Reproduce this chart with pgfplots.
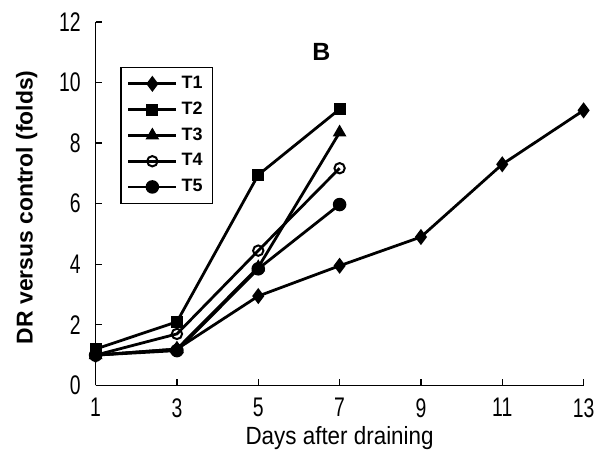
\documentclass[border=0pt]{standalone}
\usepackage{pgfplots}
\pgfplotsset{compat=1.18}
\usepackage{fontspec}
\setmainfont{Liberation Sans}
\newfontfamily\tickfont[FakeStretch=0.72]{Liberation Sans}
\newfontfamily\labfont[FakeStretch=0.9]{Liberation Sans}
\begin{document}
\begin{tikzpicture}
\begin{axis}[
  scale only axis,
  width=245pt, height=182.5pt,
  xmin=1, xmax=13, ymin=0, ymax=12,
  axis lines*=left,
  axis line style={line width=0.8pt},
  xtick={1,3,5,7,9,11,13},
  ytick={0,2,4,6,8,10,12},
  tick align=inside,
  major tick length=3pt,
  tick style={line width=0.6pt, black},
  /pgf/number format/assume math mode=true,
  ticklabel style={font=\tickfont\fontsize{13.5}{15}\selectfont},
  xticklabel style={yshift=-3pt},
  yticklabel style={xshift=-4pt},
  xlabel={Days after draining},
  ylabel={\textbf{DR versus control (folds)}},
  xlabel style={font=\labfont\fontsize{12.5}{14}\selectfont, at={(axis description cs:0.5,-0.145)}, anchor=center},
  ylabel style={font=\fontsize{11.5}{14}\selectfont, at={(axis description cs:-0.141,0.49)}, anchor=center, rotate=0},
  legend style={at={(axis description cs:0.051,0.877)}, anchor=north west,
    font=\bfseries\fontsize{9}{10}\selectfont, draw=black, line width=0.6pt,
    row sep=1.2pt, inner xsep=3pt, inner ysep=2.5pt, cells={anchor=west}},
  legend image code/.code={%
    \draw[mark repeat=2,mark phase=2] plot coordinates {(0pt,0pt) (12pt,0pt) (24pt,0pt)};},
  every axis plot/.append style={black, line width=1.4pt, mark options={solid, line width=0.8pt}},
  clip=false,
]
\addplot[mark=diamond*, mark size=3.4pt] coordinates {(1,1.0) (3,1.2) (5,2.95) (7,3.95) (9,4.9) (11,7.3) (13,9.08)};
\addlegendentry{T1}
\addplot[mark=square*, mark size=2.6pt] coordinates {(1,1.2) (3,2.1) (5,6.95) (7,9.12)};
\addlegendentry{T2}
\addplot[mark=triangle*, mark size=3.2pt] coordinates {(1,1.0) (3,1.2) (5,3.9) (7,8.35)};
\addlegendentry{T3}
\addplot[mark=o, mark size=2.6pt, mark options={fill=white, line width=1pt}] coordinates {(1,1.0) (3,1.7) (5,4.45) (7,7.17)};
\addlegendentry{T4}
\addplot[mark=*, mark size=3pt] coordinates {(1,1.0) (3,1.15) (5,3.85) (7,5.97)};
\addlegendentry{T5}
\node[font=\bfseries\fontsize{12.5}{14}\selectfont] at (axis cs:6.55,11.0) {B};
\end{axis}
\path ([shift={(-48pt,-34.5pt)}]current axis.south west) rectangle ([shift={(7.5pt,11pt)}]current axis.north east);
\end{tikzpicture}
\end{document}
